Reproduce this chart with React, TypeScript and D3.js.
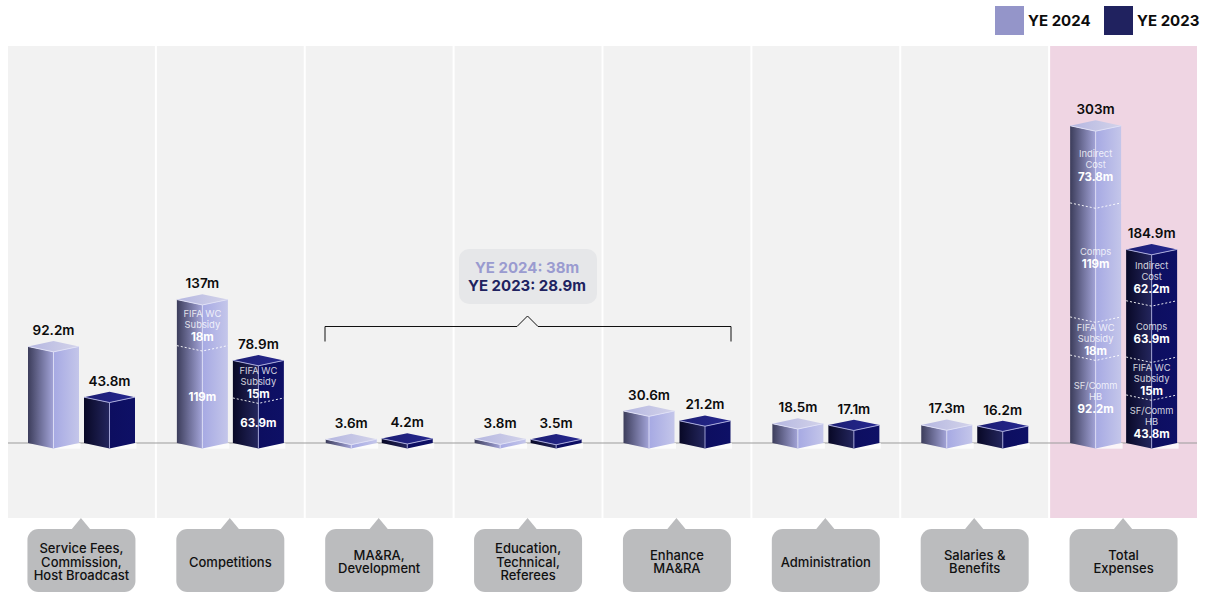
import React from "react";
import * as d3 from "d3";

const WIDTH = 1208;
const HEIGHT = 592;
const FONT = "Inter, 'Noto Sans', sans-serif";

// Expense groups, one panel each; the last panel holds the totals.
const categories = [
  ["Service Fees,", "Commission,", "Host Broadcast"],
  ["Competitions"],
  ["MA&RA,", "Development"],
  ["Education,", "Technical,", "Referees"],
  ["Enhance", "MA&RA"],
  ["Administration"],
  ["Salaries &", "Benefits"],
  ["Total", "Expenses"],
];
const seriesNames = ["YE 2024", "YE 2023"];
const ye2024 = [92.2, 137, 3.6, 3.8, 30.6, 18.5, 17.3, 303];
const ye2023 = [43.8, 78.9, 4.2, 3.5, 21.2, 17.1, 16.2, 184.9];

// Breakdown of the stacked columns, top segment first. `floor` is the value at
// which a segment's dashed divider sits: the dividers are spaced so the captions
// fit, so they do not follow the segment amounts exactly.
type Segment = { name: string[]; amount: number; floor: number };
const competitions2024: Segment[] = [
  { name: ["FIFA WC", "Subsidy"], amount: 18, floor: 93 },
  { name: [], amount: 119, floor: 0 },
];
const competitions2023: Segment[] = [
  { name: ["FIFA WC", "Subsidy"], amount: 15, floor: 43 },
  { name: [], amount: 63.9, floor: 0 },
];
const totals2024: Segment[] = [
  { name: ["Indirect", "Cost"], amount: 73.8, floor: 229.3 },
  { name: ["Comps"], amount: 119, floor: 120.4 },
  { name: ["FIFA WC", "Subsidy"], amount: 18, floor: 84 },
  { name: ["SF/Comm", "HB"], amount: 92.2, floor: 0 },
];
const totals2023: Segment[] = [
  { name: ["Indirect", "Cost"], amount: 62.2, floor: 135.9 },
  { name: ["Comps"], amount: 63.9, floor: 82.1 },
  { name: ["FIFA WC", "Subsidy"], amount: 15, floor: 45.9 },
  { name: ["SF/Comm", "HB"], amount: 43.8, floor: 0 },
];
const breakdowns: Record<string, Segment[]> = {
  "1-0": competitions2024,
  "1-1": competitions2023,
  "7-0": totals2024,
  "7-1": totals2023,
};
const bracketLines = ["YE 2024: 38m", "YE 2023: 28.9m"];

const BASE_Y = 443;
const panelX = d3
  .scaleBand<number>()
  .domain(d3.range(categories.length))
  .range([8, 1197])
  .paddingInner(2 / 148.875);
const barX = d3.scaleBand<number>().domain([0, 1]).range([20, 127]).paddingInner(5 / 56);
const y = d3.scaleLinear().domain([0, 303]).range([BASE_Y, BASE_Y - 303 * 1.047]);
const DROP = 5.4;

// Caption offsets, in pixels, for the tall total column.
const captionShift: Record<string, number[]> = {
  "7-0": [-2, -5, 1, -5],
  "7-1": [-1, 1, 1, 1],
};

const poly = (pts: [number, number][]) => d3.line()(pts) + "Z";

function Defs() {
  const grad = (id: string, stops: [number, string][]) => (
    <linearGradient id={id} x1="0" x2="1" y1="0" y2="0">
      {stops.map(([o, c]) => (
        <stop key={o} offset={o} stopColor={c} />
      ))}
    </linearGradient>
  );
  return (
    <defs>
      {grad("l0", [[0, "#3c3d5b"], [0.5, "#70719b"], [1, "#a3a4d8"]])}
      {grad("r0", [[0, "#a6a9e3"], [1, "#c4c6ea"]])}
      {grad("t0", [[0, "#b4b6e0"], [1, "#d3d3ea"]])}
      {grad("l1", [[0, "#080826"], [1, "#24265e"]])}
      {grad("r1", [[0, "#0d0e60"], [1, "#0e1066"]])}
      {grad("t1", [[0, "#1b1d72"], [1, "#262890"]])}
    </defs>
  );
}

function Column({ panel, series, value }: { panel: number; series: number; value: number }) {
  const x0 = panelX(panel)! + barX(series)!;
  const w = barX.bandwidth();
  const cx = x0 + w / 2;
  const x1 = x0 + w;
  const top = y(value);
  const edge = series === 0 ? "#dfe0f6" : "#a9abdc";
  const key = `${panel}-${series}`;
  const segments = breakdowns[key] ?? [];
  const shifts = captionShift[key] ?? [];

  let ceiling = top;
  const captions = segments.map((s, i) => {
    const bottom = y(s.floor);
    const mid = (ceiling + bottom) / 2 + 3 + (shifts[i] ?? 0);
    ceiling = bottom;
    return { s, mid, bottom };
  });

  return (
    <g>
      <rect x={cx} y={BASE_Y} width={w / 2 + 1.5} height={DROP + 0.3} fill="#fff" opacity={0.75} />
      <path d={poly([[x0, top], [cx, top + DROP], [cx, BASE_Y + DROP], [x0, BASE_Y]])} fill={`url(#l${series})`} />
      <path d={poly([[cx, top + DROP], [x1, top], [x1, BASE_Y], [cx, BASE_Y + DROP]])} fill={`url(#r${series})`} />
      <path d={poly([[x0, top], [cx, top - DROP], [x1, top], [cx, top + DROP]])} fill={`url(#t${series})`} />
      <path
        d={d3.line()([[x0, top], [cx, top + DROP], [x1, top]])!}
        fill="none"
        stroke={edge}
        strokeWidth={1}
      />
      <path d={d3.line()([[cx, top + DROP], [cx, BASE_Y + DROP]])!} stroke={edge} strokeWidth={1} opacity={0.9} />
      {captions.map(({ s, mid, bottom }, i) => {
        const blockHeight = s.name.length * 11 + (s.name.length ? 13 : 0);
        const start = mid - blockHeight / 2 + 5.5;
        return (
          <g key={i} textAnchor="middle" fontFamily={FONT} dominantBaseline="central">
            {s.floor > 0 && (
              <path
                d={d3.line()([[x0, bottom], [cx, bottom + DROP], [x1, bottom]])!}
                fill="none"
                stroke="#fff"
                strokeOpacity={0.9}
                strokeWidth={1}
                strokeDasharray="2 2"
              />
            )}
            {s.name.map((t, j) => (
              <text key={t} x={cx} y={start + j * 11} fontSize={9.4} fill="#fff" fillOpacity={0.82}>
                {t}
              </text>
            ))}
            <text
              x={cx}
              y={s.name.length ? start + s.name.length * 11 + 1.5 : mid}
              fontSize={11.5}
              fontWeight={700}
              fill="#fff"
            >
              {s.amount}m
            </text>
          </g>
        );
      })}
      <text
        x={cx}
        y={top - DROP - 11}
        textAnchor="middle"
        dominantBaseline="central"
        fontFamily={FONT}
        fontSize={13.5}
        fontWeight={600}
        fill="#0c0c0c"
      >
        {value}m
      </text>
    </g>
  );
}

function Category({ index, lines }: { index: number; lines: string[] }) {
  const cx = panelX(index)! + panelX.bandwidth() / 2;
  const tip = cx - 0.5;
  const left = cx - 54;
  const top = 529;
  const startY = 561.5 - ((lines.length - 1) * 13.6) / 2;
  return (
    <g>
      <rect x={left} y={top} width={108} height={63} rx={11} fill="#bbbcbe" />
      <path d={poly([[tip - 9.5, top + 0.5], [tip, 518], [tip + 9.5, top + 0.5]])} fill="#bbbcbe" />
      {lines.map((t, i) => (
        <text
          key={t}
          x={cx}
          y={startY + i * 13.6}
          textAnchor="middle"
          dominantBaseline="central"
          fontFamily={FONT}
          fontSize={13}
          fontWeight={500}
          fill="#111"
        >
          {t}
        </text>
      ))}
    </g>
  );
}

export default function App() {
  const legendColors = ["#9495c9", "#20225f"];
  const legendX = [995, 1104];
  return (
    <div style={{ position: "fixed", left: 0, top: 0, width: WIDTH, height: HEIGHT, overflow: "hidden", background: "#fff" }}>
      <svg width={WIDTH} height={HEIGHT} style={{ display: "block" }}>
        <Defs />
        {categories.map((_, i) => (
          <rect
            key={i}
            x={panelX(i)}
            y={46}
            width={panelX.bandwidth()}
            height={472}
            fill={i === 7 ? "#efd5e3" : "#f2f2f2"}
          />
        ))}
        <line x1={8} x2={1197} y1={BASE_Y} y2={BASE_Y} stroke="#9b9b9b" strokeWidth={1} />

        {seriesNames.map((name, i) => (
          <g key={name}>
            <rect x={legendX[i]} y={6} width={29} height={29} fill={legendColors[i]} />
            <text
              x={legendX[i] + 33}
              y={20.5}
              dominantBaseline="central"
              fontFamily={FONT}
              fontSize={15}
              fontWeight={700}
              fill="#0c0c0c"
            >
              {name}
            </text>
          </g>
        ))}

        {categories.map((_, i) => (
          <g key={i}>
            <Column panel={i} series={0} value={ye2024[i]} />
            <Column panel={i} series={1} value={ye2023[i]} />
          </g>
        ))}

        <path
          d={d3.line()([[325, 341.5], [325, 326.5], [517, 326.5], [527.5, 316], [538, 326.5], [731, 326.5], [731, 341.5]])!}
          fill="none"
          stroke="#111"
          strokeWidth={1}
        />
        <rect x={459} y={249} width={138} height={55} rx={10} fill="#e6e7e9" />
        {bracketLines.map((t, i) => (
          <text
            key={t}
            x={527}
            y={267 + i * 18.5}
            textAnchor="middle"
            dominantBaseline="central"
            fontFamily={FONT}
            fontSize={15}
            fontWeight={700}
            fill={i === 0 ? "#9a9bd0" : "#20225f"}
          >
            {t}
          </text>
        ))}

        {categories.map((lines, i) => (
          <Category key={i} index={i} lines={lines} />
        ))}
      </svg>
    </div>
  );
}
